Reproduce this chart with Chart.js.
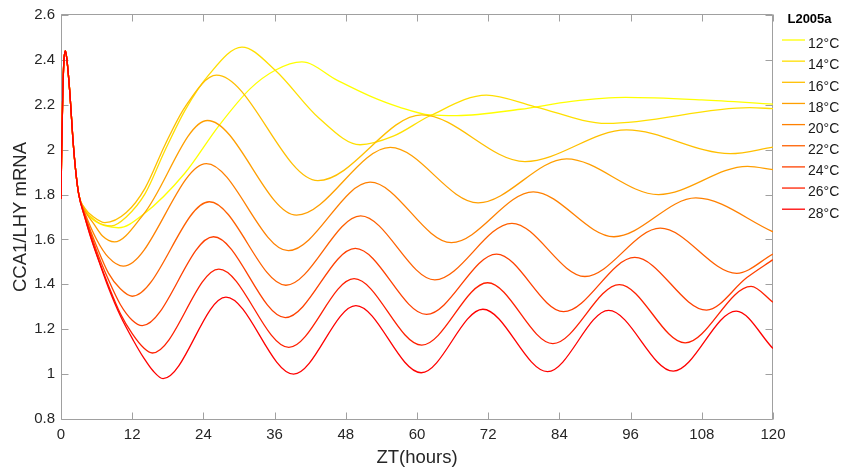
<!DOCTYPE html>
<html>
<head>
<meta charset="utf-8">
<script src="https://cdn.jsdelivr.net/npm/chart.js@4.4.1/dist/chart.umd.min.js"></script>
<style>
  html, body { margin: 0; padding: 0; background: #ffffff; }
  #wrap { width: 842px; height: 473px; }
</style>
</head>
<body>
<div id="wrap"><canvas id="c" width="842" height="473"></canvas></div>
<script>
// ---------------- data ----------------
const seriesLabels = ['12°C', '14°C', '16°C', '18°C', '20°C', '22°C', '24°C', '26°C', '28°C'];
const legendTitle = 'L2005a';
const xTitle = 'ZT(hours)';
const yTitle = 'CCA1/LHY mRNA';
const xTicks = [0, 12, 24, 36, 48, 60, 72, 84, 96, 108, 120];
const yTicks = [0.8, 1.0, 1.2, 1.4, 1.6, 1.8, 2.0, 2.2, 2.4, 2.6];

// shared initial spike (all temperatures coincide here)
const startT = [0, 0.1, 0.3, 0.5, 0.75, 1.0, 1.5, 2.0, 2.5, 3.0];
const startV = [1.78, 1.98, 2.25, 2.40, 2.44, 2.40, 2.25, 2.05, 1.90, 1.80];

const t12 = [4.0, 5.5, 7.5, 9.7, 13.9, 20.9, 26.5, 31.9, 36.1, 40.6, 46.5, 52.0, 57.0, 62.2, 66.7, 77.4, 86.0, 95.1, 108.0, 120];
const v12 = [1.73, 1.685, 1.66, 1.652, 1.712, 1.896, 2.103, 2.272, 2.354, 2.391, 2.31, 2.24, 2.19, 2.155, 2.152, 2.18, 2.215, 2.233, 2.222, 2.203];

const t14 = [4.0, 6.0, 8.5, 11.0, 14.2, 17.5, 20.9, 24.8, 30.5, 36.1, 43.5, 50.4, 56.0, 62.2, 71.7, 79.9, 92.0, 116.1, 120];
const v14 = [1.735, 1.68, 1.66, 1.70, 1.805, 1.995, 2.175, 2.33, 2.457, 2.354, 2.14, 2.022, 2.06, 2.151, 2.243, 2.191, 2.117, 2.187, 2.183];

const t16 = [4.0, 5.5, 7.4, 11.0, 14.2, 17.5, 20.9, 26.2, 43.3, 60.8, 78.2, 95.3, 112.8, 120];
const v16 = [1.74, 1.70, 1.675, 1.72, 1.83, 2.02, 2.19, 2.332, 1.862, 2.155, 1.947, 2.088, 1.982, 2.011];

const t18 = [4.0, 5.5, 7.0, 9.0, 13.9, 24.7, 39.7, 55.5, 70.3, 85.2, 100.7, 115.7, 120];
const v18 = [1.73, 1.67, 1.615, 1.589, 1.712, 2.13, 1.708, 2.01, 1.763, 1.959, 1.80, 1.926, 1.911];

const t20 = [4.0, 6.0, 8.0, 10.5, 24.5, 38.3, 52.1, 65.8, 79.6, 93.2, 107.0, 120];
const v20 = [1.72, 1.60, 1.52, 1.481, 1.938, 1.550, 1.855, 1.586, 1.812, 1.612, 1.785, 1.634];

const t22 = [4.0, 6.0, 8.0, 10.0, 12.0, 25.0, 37.9, 50.5, 63.0, 76.0, 88.3, 101.0, 113.9, 120];
const v22 = [1.71, 1.57, 1.45, 1.38, 1.347, 1.768, 1.396, 1.705, 1.42, 1.672, 1.435, 1.650, 1.449, 1.535];

const t24 = [4.0, 6.0, 8.0, 10.0, 12.0, 13.7, 25.7, 37.8, 49.6, 61.6, 73.4, 84.7, 96.7, 108.8, 115.6, 120];
const v24 = [1.71, 1.55, 1.42, 1.31, 1.24, 1.216, 1.612, 1.252, 1.560, 1.266, 1.535, 1.278, 1.52, 1.285, 1.43, 1.51];

const t26 = [4.0, 6.0, 8.0, 10.0, 12.0, 14.0, 15.4, 26.6, 38.4, 49.4, 60.8, 71.9, 82.9, 94.1, 105.2, 116.3, 120];
const v26 = [1.70, 1.535, 1.395, 1.27, 1.18, 1.115, 1.094, 1.468, 1.119, 1.425, 1.129, 1.407, 1.136, 1.399, 1.139, 1.391, 1.32];

const t28 = [4.0, 5.0, 6.5, 8.0, 10.0, 12.2, 14.0, 15.5, 17.2, 27.8, 39.2, 49.7, 60.7, 71.1, 82.0, 92.3, 103.2, 113.8, 120];
const v28 = [1.70, 1.61, 1.495, 1.385, 1.26, 1.15, 1.07, 1.015, 0.98, 1.343, 1.0, 1.305, 1.006, 1.289, 1.011, 1.284, 1.013, 1.281, 1.114];

const seriesT = [t12, t14, t16, t18, t20, t22, t24, t26, t28];
const seriesV = [v12, v14, v16, v18, v20, v22, v24, v26, v28];

// ---------------- styles ----------------
const seriesColors = [
  'rgb(255,255,0)', 'rgb(255,223,0)', 'rgb(255,191,0)', 'rgb(255,159,0)', 'rgb(255,128,0)',
  'rgb(255,96,0)', 'rgb(255,64,0)', 'rgb(255,32,0)', 'rgb(255,0,0)'
];
const FONT = "'Liberation Sans', Arial, Helvetica, sans-serif";
const TEXT = '#262626';
const AXIS = '#a0a0a0';

Chart.defaults.font.family = FONT;
Chart.defaults.color = TEXT;

function toPoints(ts, vs) {
  const all = startT.concat(ts);
  const vals = startV.concat(vs);
  return all.map((t, k) => ({ x: t, y: vals[k] }));
}

const datasets = seriesLabels.map((lab, i) => ({
  label: lab,
  data: toPoints(seriesT[i], seriesV[i]),
  borderColor: seriesColors[i],
  backgroundColor: seriesColors[i],
  borderWidth: 1.3,
  pointRadius: 0,
  fill: false,
  cubicInterpolationMode: 'monotone',
  order: seriesLabels.length - 1 - i
}));

// axes box with inward ticks on all four sides
const boxPlugin = {
  id: 'matlabBox',
  beforeDatasetsDraw(chart) {
    const { ctx, chartArea, scales } = chart;
    const L = Math.round(chartArea.left) + 0.5;
    const R = Math.round(chartArea.right) - 0.5;
    const T = Math.round(chartArea.top) - 0.5;
    const B = Math.round(chartArea.bottom) + 0.5;
    const tl = 7;
    ctx.save();
    ctx.strokeStyle = AXIS;
    ctx.lineWidth = 1;
    ctx.beginPath();
    ctx.rect(L, T, R - L, B - T);
    xTicks.forEach(v => {
      const px = Math.round(scales.x.getPixelForValue(v)) + 0.5;
      ctx.moveTo(px, B); ctx.lineTo(px, B - tl);
      ctx.moveTo(px, T); ctx.lineTo(px, T + tl);
    });
    yTicks.forEach(v => {
      const py = Math.round(scales.y.getPixelForValue(v)) + 0.5;
      ctx.moveTo(L, py); ctx.lineTo(L + tl, py);
      ctx.moveTo(R, py); ctx.lineTo(R - tl, py);
    });
    ctx.stroke();
    ctx.restore();
  }
};

// legend at the right, outside the axes
const legendPlugin = {
  id: 'sideLegend',
  afterDraw(chart) {
    const { ctx, chartArea } = chart;
    const x0 = chartArea.right + 9;
    ctx.save();
    ctx.fillStyle = '#000000';
    ctx.font = 'bold 13px ' + FONT;
    ctx.textAlign = 'center';
    ctx.textBaseline = 'middle';
    ctx.fillText(legendTitle, x0 + 27.5, 19.5);
    chart.data.datasets.forEach((ds, i) => {
      const y = 40 + i * 21.15;
      ctx.strokeStyle = ds.borderColor;
      ctx.lineWidth = 1.3;
      ctx.beginPath();
      ctx.moveTo(x0, y);
      ctx.lineTo(x0 + 23, y);
      ctx.stroke();
      ctx.fillStyle = '#1a1a1a';
      ctx.font = '14px ' + FONT;
      ctx.textAlign = 'left';
      ctx.textBaseline = 'alphabetic';
      ctx.fillText(ds.label, x0 + 26, y + 8.3);
    });
    ctx.restore();
  }
};

new Chart(document.getElementById('c'), {
  type: 'line',
  data: { datasets },
  plugins: [boxPlugin, legendPlugin],
  options: {
    responsive: false,
    animation: false,
    events: [],
    layout: { padding: { left: 0, right: 69, top: 13, bottom: 0 } },
    plugins: {
      legend: { display: false },
      tooltip: { enabled: false },
      title: { display: false }
    },
    scales: {
      x: {
        type: 'linear',
        min: 0,
        max: 120,
        afterBuildTicks: s => { s.ticks = xTicks.map(v => ({ value: v })); },
        afterFit: s => { s.height = 54; },
        grid: { display: false, drawTicks: false },
        border: { display: false },
        ticks: {
          autoSkip: false, maxRotation: 0, minRotation: 0,
          padding: 7,
          color: TEXT,
          font: { size: 15, family: FONT },
          callback: v => String(v)
        },
        title: {
          display: true, text: xTitle, color: TEXT,
          font: { size: 18.5, family: FONT },
          padding: { top: 0, bottom: 4 }
        }
      },
      y: {
        type: 'linear',
        min: 0.8,
        max: 2.6,
        afterBuildTicks: s => { s.ticks = yTicks.map(v => ({ value: v })); },
        afterFit: s => { s.width = 61; },
        grid: { display: false, drawTicks: false },
        border: { display: false },
        ticks: {
          autoSkip: false,
          padding: 6,
          color: TEXT,
          font: { size: 15, family: FONT },
          callback: v => String(+Number(v).toFixed(1))
        },
        title: {
          display: true, text: yTitle, color: TEXT,
          font: { size: 18.5, family: FONT },
          padding: { top: 10, bottom: 0 }
        }
      }
    }
  }
});
</script>
</body>
</html>
